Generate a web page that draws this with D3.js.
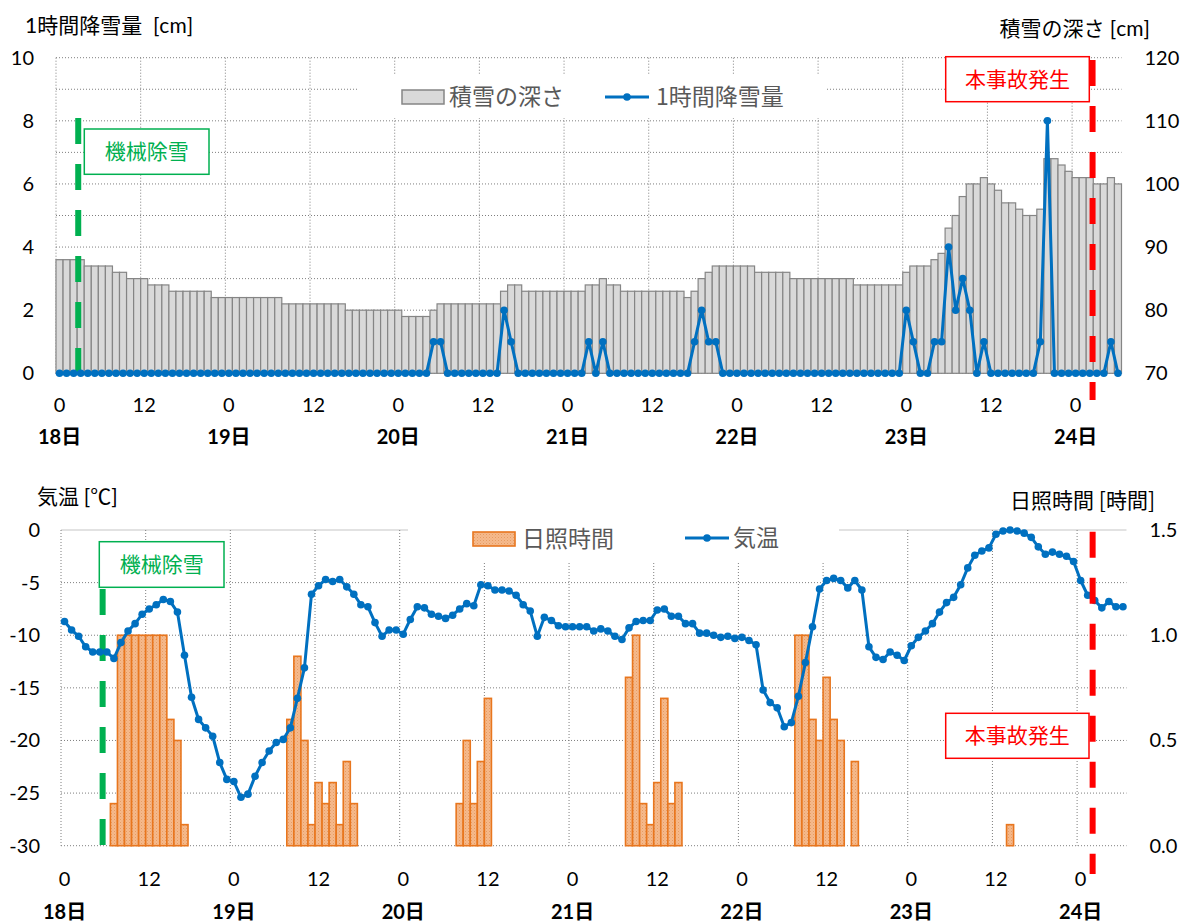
<!DOCTYPE html>
<html>
<head>
<meta charset="utf-8">
<script src="https://cdn.jsdelivr.net/npm/d3@7"></script>
<style>
  body { margin: 0; background: #fff; }
  svg { display: block; }
  text { font-family: "Lato", "Noto Sans CJK JP", sans-serif; }
  .cjk { font-family: "Noto Sans CJK JP", sans-serif; }
  .lat { font-family: "Lato", sans-serif; }
  .title { white-space: pre; }
</style>
</head>
<body>
<svg id="chart" width="1184" height="922"></svg>
<script>
// Hourly observations, 18日 0時 onward (151 hours)
const hours = d3.range(151);
const hourTickLabels = ["0", "12"];
const dayLabels = ["18日", "19日", "20日", "21日", "22日", "23日", "24日"];

// 積雪の深さ [cm]
const snowDepth = [
  88, 88, 88, 88, 87, 87, 87, 87, 86, 86, 85, 85, 85, 84, 84, 84, 83, 83, 83, 83,
  83, 83, 82, 82, 82, 82, 82, 82, 82, 82, 82, 82, 81, 81, 81, 81, 81, 81, 81, 81,
  81, 80, 80, 80, 80, 80, 80, 80, 80, 79, 79, 79, 79, 80, 81, 81, 81, 81, 81, 81,
  81, 81, 81, 83, 84, 84, 83, 83, 83, 83, 83, 83, 83, 83, 83, 84, 84, 85, 84, 84,
  83, 83, 83, 83, 83, 83, 83, 83, 83, 82, 83, 85, 86, 87, 87, 87, 87, 87, 87, 86,
  86, 86, 86, 86, 85, 85, 85, 85, 85, 85, 85, 85, 85, 84, 84, 84, 84, 84, 84, 84,
  86, 87, 87, 87, 88, 89, 93, 95, 98, 100, 100, 101, 100, 99, 97, 97, 96, 95, 95, 96,
  104, 104, 103, 102, 101, 101, 101, 100, 100, 101, 100
];

// 1時間降雪量 [cm]
const snowfall = [
  0, 0, 0, 0, 0, 0, 0, 0, 0, 0, 0, 0, 0, 0, 0, 0, 0, 0, 0, 0,
  0, 0, 0, 0, 0, 0, 0, 0, 0, 0, 0, 0, 0, 0, 0, 0, 0, 0, 0, 0,
  0, 0, 0, 0, 0, 0, 0, 0, 0, 0, 0, 0, 0, 1, 1, 0, 0, 0, 0, 0,
  0, 0, 0, 2, 1, 0, 0, 0, 0, 0, 0, 0, 0, 0, 0, 1, 0, 1, 0, 0,
  0, 0, 0, 0, 0, 0, 0, 0, 0, 0, 1, 2, 1, 1, 0, 0, 0, 0, 0, 0,
  0, 0, 0, 0, 0, 0, 0, 0, 0, 0, 0, 0, 0, 0, 0, 0, 0, 0, 0, 0,
  2, 1, 0, 0, 1, 1, 4, 2, 3, 2, 0, 1, 0, 0, 0, 0, 0, 0, 0, 1,
  8, 0, 0, 0, 0, 0, 0, 0, 0, 1, 0
];

// 気温 [℃]
const temperature = [
  -8.7, -9.5, -10.1, -11.1, -11.6, -11.6, -11.6, -12.2, -10.7, -9.6,
  -8.9, -8.0, -7.5, -7.1, -6.6, -6.8, -7.8, -11.9, -15.9, -18.0,
  -18.8, -19.6, -22.1, -23.7, -23.9, -25.4, -25.1, -23.4, -22.1, -21.0,
  -20.2, -19.9, -18.8, -16.0, -13.1, -6.1, -5.3, -4.7, -4.9, -4.7,
  -5.4, -6.1, -7.1, -7.3, -8.8, -10.1, -9.5, -9.5, -9.9, -8.5,
  -7.3, -7.4, -8.0, -8.2, -8.4, -8.1, -7.5, -7.0, -7.2, -5.2,
  -5.3, -5.7, -5.7, -5.8, -6.2, -7.1, -7.7, -10.1, -8.3, -8.6,
  -9.1, -9.2, -9.2, -9.2, -9.2, -9.6, -9.4, -9.6, -10.1, -10.4,
  -9.3, -8.7, -8.6, -8.6, -7.6, -7.5, -8.2, -8.2, -8.9, -8.9,
  -9.8, -9.8, -10.0, -10.2, -10.1, -10.3, -10.2, -10.5, -10.9, -15.2,
  -16.4, -16.9, -18.7, -18.3, -15.8, -12.6, -9.2, -5.6, -4.8, -4.6,
  -4.8, -5.5, -4.8, -5.7, -11.1, -12.1, -12.3, -11.6, -11.9, -12.4,
  -11.0, -10.2, -9.6, -8.9, -7.8, -6.9, -6.4, -5.2, -3.6, -2.4,
  -2.0, -1.7, -0.4, -0.1, 0.0, -0.1, -0.3, -0.7, -1.6, -2.3,
  -2.1, -2.3, -2.5, -3.0, -4.8, -6.2, -6.7, -7.4, -6.8, -7.3,
  -7.3
];

// 日照時間 [時間]
const sunshine = [
  0, 0, 0, 0, 0, 0, 0, 0.2, 1.0, 1.0, 1.0, 1.0, 1.0, 1.0, 1.0, 0.6, 0.5, 0.1, 0, 0,
  0, 0, 0, 0, 0, 0, 0, 0, 0, 0, 0, 0, 0.6, 0.9, 0.5, 0.1, 0.3, 0.2, 0.3, 0.1,
  0.4, 0.2, 0, 0, 0, 0, 0, 0, 0, 0, 0, 0, 0, 0, 0, 0, 0.2, 0.5, 0.2, 0.4,
  0.7, 0, 0, 0, 0, 0, 0, 0, 0, 0, 0, 0, 0, 0, 0, 0, 0, 0, 0, 0,
  0.8, 1.0, 0.2, 0.1, 0.3, 0.7, 0.2, 0.3, 0, 0, 0, 0, 0, 0, 0, 0, 0, 0, 0, 0,
  0, 0, 0, 0, 1.0, 1.0, 0.6, 0.5, 0.8, 0.6, 0.5, 0, 0.4, 0, 0, 0, 0, 0, 0, 0,
  0, 0, 0, 0, 0, 0, 0, 0, 0, 0, 0, 0, 0, 0, 0.1, 0, 0, 0, 0, 0,
  0, 0, 0, 0, 0, 0, 0, 0, 0, 0, 0
];

// Event markers, in hours from 18日 0時
const removalHourTop = 3.15, removalHourBottom = 5.9;
const accidentHourTop = 146.9, accidentHourBottom = 146.2;

const BLUE = "#0070C0", GREEN = "#00B050", RED = "#FF0000";
const GRID = "#7f7f7f";

const svg = d3.select("#chart");

const defs = svg.append("defs");
const pat = defs.append("pattern").attr("id", "sunFill")
  .attr("width", 3).attr("height", 3).attr("patternUnits", "userSpaceOnUse");
pat.append("rect").attr("width", 3).attr("height", 3).attr("fill", "#F5BA8C");
pat.append("rect").attr("width", 1).attr("height", 1).attr("fill", "#E79A62");
pat.append("rect").attr("x", 1.5).attr("y", 1.5).attr("width", 1).attr("height", 1).attr("fill", "#EDA877");

function hourTicks(step) { return hours.filter(h => h % step === 0); }

function drawPanel(cfg) {
  const g = svg.append("g");
  const x = d3.scaleBand().domain(hours).range([cfg.left, cfg.right]).paddingInner(0).paddingOuter(0);
  const yL = d3.scaleLinear().domain(cfg.leftDomain).range([cfg.bottom, cfg.top]);
  const yR = d3.scaleLinear().domain(cfg.rightDomain).range([cfg.bottom, cfg.top]);
  const bw = x.bandwidth();

  // horizontal grid
  const isSolid = d => cfg.solidTop && d === cfg.leftDomain[1];
  g.append("g").selectAll("line").data(cfg.hGrid).join("line")
    .attr("x1", cfg.left).attr("x2", cfg.right)
    .attr("y1", d => yL(d)).attr("y2", d => yL(d))
    .attr("stroke", d => isSolid(d) ? "#d9d9d9" : GRID)
    .attr("stroke-width", d => isSolid(d) ? 1.5 : 1)
    .attr("stroke-dasharray", d => isSolid(d) ? null : "1,2");

  // vertical grid every 12 hours
  g.append("g").selectAll("line").data(hourTicks(12)).join("line")
    .attr("x1", d => x(d)).attr("x2", d => x(d))
    .attr("y1", cfg.top).attr("y2", cfg.bottom)
    .attr("stroke", GRID).attr("stroke-width", 1).attr("stroke-dasharray", "1,2");

  // legend background
  g.append("rect").attr("x", cfg.legendBox[0]).attr("y", cfg.legendBox[1])
    .attr("width", cfg.legendBox[2]).attr("height", cfg.legendBox[3]).attr("fill", "#fff");

  // axes
  const axL = g.append("g").attr("transform", `translate(${cfg.left},0)`)
    .call(d3.axisLeft(yL).tickValues(cfg.leftTicks).tickSize(0).tickPadding(cfg.labelPad).tickFormat(cfg.leftFmt));
  const axR = g.append("g").attr("transform", `translate(${cfg.right},0)`)
    .call(d3.axisRight(yR).tickValues(cfg.rightTicks).tickSize(0).tickPadding(cfg.labelPadR).tickFormat(cfg.rightFmt));
  [axL, axR].forEach(a => {
    a.select(".domain").remove();
    a.selectAll("text").attr("font-size", 20).attr("fill", "#000")
      .attr("font-family", "Lato, sans-serif");
  });

  const axH = g.append("g").attr("transform", `translate(0,${cfg.hourLabelY})`)
    .call(d3.axisBottom(x).tickValues(hourTicks(12)).tickSize(0).tickPadding(0)
      .tickFormat(h => hourTickLabels[(h % 24) / 12]));
  axH.select(".domain").remove();
  axH.selectAll("text").attr("y", 0).attr("dy", "0.35em").attr("font-size", 20).attr("fill", "#000")
    .attr("font-family", "Lato, sans-serif");

  const axD = g.append("g").attr("transform", `translate(0,${cfg.dayLabelY})`)
    .call(d3.axisBottom(x).tickValues(hourTicks(24)).tickSize(0).tickPadding(0)
      .tickFormat(h => dayLabels[h / 24]));
  axD.select(".domain").remove();
  axD.selectAll("text").attr("y", 0).attr("dy", "0.35em").attr("font-size", 20)
    .attr("font-weight", "bold").attr("fill", "#000")
    .attr("font-family", "'Noto Sans CJK JP', sans-serif");

  return { g, x, yL, yR, bw };
}

function dashedMarker(g, xPos, y1, y2, color) {
  g.append("line").attr("x1", xPos).attr("x2", xPos).attr("y1", y1).attr("y2", y2)
    .attr("stroke", color).attr("stroke-width", 6).attr("stroke-dasharray", "26,20");
}

function labelBox(g, bx, by, bwid, bht, label, color) {
  g.append("rect").attr("x", bx).attr("y", by).attr("width", bwid).attr("height", bht)
    .attr("fill", "#fff").attr("stroke", color).attr("stroke-width", 1.5);
  g.append("text").attr("class", "cjk").attr("x", bx + bwid / 2).attr("y", by + bht / 2)
    .attr("dy", "0.36em").attr("text-anchor", "middle").attr("font-size", 21)
    .attr("fill", color).text(label);
}

// Axis titles: CJK runs in the CJK face, bracketed units in Lato
function titleText(x, y, parts, anchor) {
  const t = svg.append("text").attr("class", "title").attr("x", x).attr("y", y).attr("dy", "0.36em")
    .attr("text-anchor", anchor || "start").attr("font-size", 21).attr("fill", "#000");
  parts.forEach(([s, cls]) => t.append("tspan").attr("class", cls).text(s));
}

// ---------- 上段: 積雪の深さ / 1時間降雪量 ----------
const upper = drawPanel({
  left: 56, right: 1121.5, top: 57.7, bottom: 373.3,
  leftDomain: [0, 10], rightDomain: [70, 120],
  hGrid: d3.range(0, 11), solidTop: false,
  leftTicks: [0, 2, 4, 6, 8, 10], rightTicks: [70, 80, 90, 100, 110, 120],
  leftFmt: d => String(d), rightFmt: d => String(d),
  labelPad: 22, labelPadR: 23,
  hourLabelY: 405, dayLabelY: 437,
  legendBox: [358, 75, 468, 43]
});

upper.g.append("g").selectAll("rect").data(snowDepth).join("rect")
  .attr("x", (d, i) => upper.x(i)).attr("width", upper.bw)
  .attr("y", d => upper.yR(d)).attr("height", d => upper.yR(70) - upper.yR(d))
  .attr("fill", "#D9D9D9").attr("stroke", "#858585").attr("stroke-width", 1.2);

dashedMarker(upper.g, upper.x(0) + removalHourTop * upper.bw, 118, 373.3, GREEN);

upper.g.append("path").datum(snowfall)
  .attr("d", d3.line().x((d, i) => upper.x(i) + upper.bw / 2).y(d => upper.yL(d)))
  .attr("fill", "none").attr("stroke", BLUE).attr("stroke-width", 3).attr("stroke-linejoin", "round");
upper.g.append("g").selectAll("circle").data(snowfall).join("circle")
  .attr("cx", (d, i) => upper.x(i) + upper.bw / 2).attr("cy", d => upper.yL(d)).attr("r", 3.8)
  .attr("fill", BLUE);

labelBox(upper.g, 84.3, 129, 124.7, 45.3, "機械除雪", GREEN);
labelBox(upper.g, 945.7, 56.7, 143.6, 45, "本事故発生", RED);
dashedMarker(upper.g, upper.x(0) + accidentHourTop * upper.bw, 60, 400, RED);

// legend (upper)
upper.g.append("rect").attr("x", 402).attr("y", 90).attr("width", 42).attr("height", 14)
  .attr("fill", "#D9D9D9").attr("stroke", "#858585").attr("stroke-width", 1.5);
upper.g.append("text").attr("class", "cjk").attr("x", 449).attr("y", 97).attr("dy", "0.36em")
  .attr("font-size", 23).attr("fill", "#595959").text("積雪の深さ");
upper.g.append("line").attr("x1", 605).attr("x2", 649).attr("y1", 97).attr("y2", 97)
  .attr("stroke", BLUE).attr("stroke-width", 3);
upper.g.append("circle").attr("cx", 627).attr("cy", 97).attr("r", 3.8).attr("fill", BLUE);
upper.g.append("text").attr("class", "cjk").attr("x", 656).attr("y", 97).attr("dy", "0.36em")
  .attr("font-size", 23).attr("fill", "#595959").text("1時間降雪量");

titleText(25, 25, [["1", "lat"], ["時間降雪量", "cjk"], ["  [cm]", "lat"]]);
titleText(1150, 28, [["積雪の深さ", "cjk"], [" [cm]", "lat"]], "end");

// ---------- 下段: 日照時間 / 気温 ----------
const lower = drawPanel({
  left: 61, right: 1126.5, top: 530, bottom: 845.7,
  leftDomain: [-30, 0], rightDomain: [0, 1.5],
  hGrid: [-30, -25, -20, -15, -10, -5, 0], solidTop: true,
  leftTicks: [-30, -25, -20, -15, -10, -5, 0], rightTicks: [0, 0.5, 1.0, 1.5],
  leftFmt: d => String(d), rightFmt: d3.format(".1f"),
  labelPad: 21, labelPadR: 23,
  hourLabelY: 879, dayLabelY: 912,
  legendBox: [408, 517, 431, 44]
});

lower.g.append("g").selectAll("rect")
  .data(sunshine.map((v, i) => ({ i, v })).filter(d => d.v > 0)).join("rect")
  .attr("x", d => lower.x(d.i)).attr("width", lower.bw)
  .attr("y", d => lower.yR(d.v)).attr("height", d => lower.yR(0) - lower.yR(d.v))
  .attr("fill", "url(#sunFill)").attr("stroke", "#E8761E").attr("stroke-width", 1.6);

dashedMarker(lower.g, lower.x(0) + removalHourBottom * lower.bw, 589, 845.7, GREEN);

lower.g.append("path").datum(temperature)
  .attr("d", d3.line().x((d, i) => lower.x(i) + lower.bw / 2).y(d => lower.yL(d)))
  .attr("fill", "none").attr("stroke", BLUE).attr("stroke-width", 3).attr("stroke-linejoin", "round");
lower.g.append("g").selectAll("circle").data(temperature).join("circle")
  .attr("cx", (d, i) => lower.x(i) + lower.bw / 2).attr("cy", d => lower.yL(d)).attr("r", 3.8)
  .attr("fill", BLUE);

labelBox(lower.g, 99.3, 541.7, 124.7, 45.6, "機械除雪", GREEN);
labelBox(lower.g, 945.7, 713.3, 143.3, 45, "本事故発生", RED);
dashedMarker(lower.g, lower.x(0) + accidentHourBottom * lower.bw, 531.7, 874, RED);

// legend (lower)
lower.g.append("rect").attr("x", 473).attr("y", 532).attr("width", 42).attr("height", 14)
  .attr("fill", "url(#sunFill)").attr("stroke", "#E8761E").attr("stroke-width", 1.6);
lower.g.append("text").attr("class", "cjk").attr("x", 522).attr("y", 539).attr("dy", "0.36em")
  .attr("font-size", 23).attr("fill", "#595959").text("日照時間");
lower.g.append("line").attr("x1", 685).attr("x2", 729).attr("y1", 538).attr("y2", 538)
  .attr("stroke", BLUE).attr("stroke-width", 3);
lower.g.append("circle").attr("cx", 707).attr("cy", 538).attr("r", 3.8).attr("fill", BLUE);
lower.g.append("text").attr("class", "cjk").attr("x", 733).attr("y", 538).attr("dy", "0.36em")
  .attr("font-size", 23).attr("fill", "#595959").text("気温");

titleText(37, 496, [["気温 ", "cjk"], ["[", "lat"], ["℃", "cjk"], ["]", "lat"]]);
titleText(1155, 500, [["日照時間 [時間]", "cjk"]], "end");
</script>
</body>
</html>
